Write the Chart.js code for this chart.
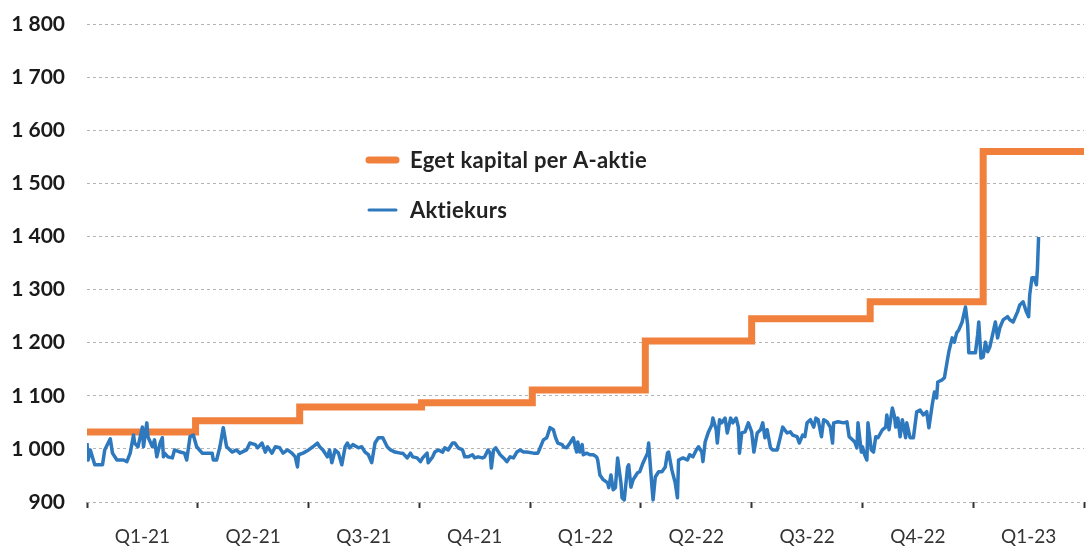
<!DOCTYPE html>
<html>
<head>
<meta charset="utf-8">
<script src="https://cdn.jsdelivr.net/npm/chart.js@4.4.1/dist/chart.umd.min.js"></script>
<style>
  html, body { margin: 0; padding: 0; background: #fff; }
  #wrap { width: 1088px; height: 546px; }
</style>
</head>
<body>
<div id="wrap"><canvas id="kurs" width="1088" height="546"></canvas></div>
<script>
// quarter labels on the x axis
const quarters = ['Q1-21', 'Q2-21', 'Q3-21', 'Q4-21', 'Q1-22', 'Q2-22', 'Q3-22', 'Q4-22', 'Q1-23'];

// equity per A-share (x in quarters since start of Q1-21)
const equityQ = [0, 0.98, 1.92, 3.02, 4.02, 5.04, 6.00, 7.07, 8.09, 9];
const equityV = [1032, 1053, 1079, 1087, 1111, 1203, 1245, 1277, 1560, 1560];

// share price
const priceQ = [
  0, 0.01, 0.03, 0.07, 0.14, 0.16, 0.21, 0.23, 0.27, 0.33, 0.36, 0.39, 0.42, 0.43, 0.46, 0.50, 0.51, 0.54, 0.55, 0.59,
  0.61, 0.63, 0.66, 0.68, 0.69, 0.70, 0.73, 0.77, 0.79, 0.84, 0.88, 0.90, 0.93, 0.96, 0.99, 1.04, 1.13, 1.14, 1.17, 1.20,
  1.23, 1.26, 1.31, 1.35, 1.38, 1.44, 1.47, 1.52, 1.54, 1.58, 1.61, 1.63, 1.67, 1.70, 1.74, 1.77, 1.81, 1.85, 1.88, 1.90,
  1.91, 1.95, 2.00, 2.04, 2.08, 2.10, 2.13, 2.17, 2.19, 2.21, 2.24, 2.27, 2.30, 2.33, 2.35, 2.37, 2.40, 2.45, 2.48, 2.51,
  2.54, 2.57, 2.60, 2.63, 2.67, 2.71, 2.74, 2.78, 2.83, 2.85, 2.89, 2.92, 2.94, 2.98, 3.01, 3.03, 3.07, 3.08, 3.12, 3.14,
  3.17, 3.21, 3.23, 3.26, 3.30, 3.32, 3.35, 3.39, 3.41, 3.44, 3.48, 3.50, 3.53, 3.57, 3.59, 3.62, 3.64, 3.65, 3.67, 3.69,
  3.73, 3.76, 3.79, 3.82, 3.85, 3.88, 3.91, 3.94, 3.97, 4.03, 4.07, 4.09, 4.12, 4.15, 4.18, 4.21, 4.23, 4.25, 4.29, 4.30,
  4.33, 4.36, 4.39, 4.41, 4.42, 4.43, 4.45, 4.47, 4.48, 4.51, 4.54, 4.57, 4.60, 4.61, 4.63, 4.66, 4.70, 4.71, 4.73, 4.75,
  4.77, 4.79, 4.82, 4.83, 4.85, 4.88, 4.89, 4.91, 4.93, 4.97, 4.99, 5.02, 5.06, 5.07, 5.10, 5.11, 5.13, 5.16, 5.19, 5.22,
  5.24, 5.25, 5.28, 5.31, 5.33, 5.34, 5.38, 5.42, 5.44, 5.47, 5.50, 5.52, 5.55, 5.56, 5.58, 5.61, 5.64, 5.65, 5.68, 5.69,
  5.71, 5.73, 5.76, 5.78, 5.81, 5.83, 5.86, 5.88, 5.89, 5.91, 5.94, 5.97, 6.00, 6.02, 6.05, 6.08, 6.10, 6.12, 6.14, 6.17,
  6.19, 6.23, 6.26, 6.28, 6.32, 6.35, 6.37, 6.41, 6.43, 6.46, 6.48, 6.50, 6.53, 6.56, 6.58, 6.60, 6.63, 6.65, 6.68, 6.71,
  6.73, 6.74, 6.78, 6.83, 6.86, 6.88, 6.91, 6.93, 6.95, 6.96, 6.99, 7.00, 7.02, 7.04, 7.05, 7.08, 7.10, 7.12, 7.14, 7.18,
  7.21, 7.22, 7.24, 7.27, 7.29, 7.30, 7.32, 7.34, 7.36, 7.39, 7.40, 7.43, 7.46, 7.49, 7.52, 7.55, 7.58, 7.60, 7.63, 7.65,
  7.67, 7.68, 7.72, 7.74, 7.77, 7.78, 7.81, 7.83, 7.85, 7.87, 7.90, 7.93, 7.95, 7.96, 7.99, 8.02, 8.04, 8.05, 8.07, 8.09,
  8.11, 8.13, 8.15, 8.18, 8.20, 8.22, 8.24, 8.27, 8.31, 8.33, 8.36, 8.40, 8.42, 8.45, 8.48, 8.50, 8.51, 8.53, 8.55, 8.57,
  8.58, 8.59
];
const priceV = [
  1011, 979, 998, 970, 970, 998, 1019, 992, 979, 979, 976, 992, 1026, 1011, 1004, 1041, 1004, 1049, 1023, 1004,
  1017, 985, 1011, 1021, 985, 992, 985, 983, 998, 994, 992, 979, 1023, 1026, 1004, 992, 992, 979, 979, 1004,
  1040, 1004, 994, 998, 992, 998, 1011, 1008, 1002, 1011, 994, 1004, 992, 1004, 1002, 992, 998, 992, 985, 966,
  989, 992, 998, 1004, 1011, 1004, 998, 985, 998, 974, 998, 992, 970, 1004, 1011, 1002, 1008, 1002, 1004, 994,
  989, 974, 1011, 1021, 1021, 1004, 998, 994, 992, 992, 983, 992, 985, 983, 976, 983, 992, 974, 985, 994,
  998, 994, 1002, 998, 1011, 1011, 1002, 998, 985, 985, 989, 983, 985, 983, 985, 998, 992, 964, 998, 1002,
  989, 983, 976, 985, 983, 994, 998, 994, 994, 992, 992, 1002, 1017, 1021, 1040, 1036, 1021, 1011, 1008, 1004,
  1002, 1011, 1021, 1002, 994, 1013, 994, 1008, 989, 992, 989, 989, 985, 979, 951, 942, 936, 927, 951, 923,
  927, 983, 936, 908, 904, 966, 970, 928, 942, 955, 957, 974, 992, 1011, 928, 904, 947, 957, 957, 966,
  992, 994, 960, 936, 908, 979, 983, 979, 989, 985, 998, 1004, 994, 976, 1013, 1032, 1045, 1058, 1036, 1011,
  1055, 1049, 1058, 1030, 1058, 1049, 1058, 1041, 992, 1030, 1032, 1049, 1032, 994, 1030, 1036, 1049, 1021, 1036, 1002,
  998, 998, 1023, 1041, 1030, 1032, 1026, 1023, 1011, 1026, 1023, 1049, 1055, 1041, 1058, 1055, 1023, 1055, 1051, 1041,
  1011, 1049, 1051, 1049, 1051, 1023, 1017, 1013, 1002, 1049, 994, 1004, 989, 979, 1049, 998, 994, 1023, 1021, 1036,
  1041, 1064, 1036, 1077, 1060, 1041, 1058, 1023, 1055, 1021, 1049, 1021, 1021, 1070, 1073, 1064, 1070, 1040, 1083, 1107,
  1096, 1126, 1130, 1134, 1171, 1183, 1209, 1201, 1218, 1224, 1239, 1267, 1233, 1181, 1181, 1181, 1215, 1239, 1171, 1173,
  1201, 1183, 1192, 1220, 1239, 1209, 1228, 1243, 1249, 1243, 1239, 1258, 1271, 1277, 1258, 1249, 1290, 1322, 1322, 1309,
  1341, 1399
];

Chart.defaults.font.family = 'Lato, "Open Sans", sans-serif';
Chart.defaults.color = '#222';

// legend sits inside the plot, not above it
const innerLegend = {
  id: 'innerLegend',
  afterDatasetsDraw(chart) {
    const ctx = chart.ctx;
    const a = chart.chartArea;
    ctx.save();
    ctx.font = 'bold 22px Lato';
    ctx.letterSpacing = '0.3px';
    ctx.textRendering = 'optimizeSpeed';
    ctx.textBaseline = 'alphabetic';
    chart.data.datasets.forEach((ds, i) => {
      const x = a.left + 280;
      const y = a.top + 136 + i * 50;
      ctx.strokeStyle = ds.borderColor;
      ctx.lineWidth = i === 0 ? 7 : 3;
      ctx.lineCap = 'round';
      ctx.beginPath();
      ctx.moveTo(x + 2, y);
      ctx.lineTo(x + 29, y);
      ctx.stroke();
      ctx.fillStyle = '#222';
      ctx.fillText(ds.label, x + 43, y + 8);
    });
    ctx.restore();
  }
};

new Chart(
  document.getElementById('kurs'),
  {
    type: 'line',
    data: {
      datasets: [
        {
          label: 'Eget kapital per A-aktie',
          data: equityQ.map((q, i) => ({ x: q, y: equityV[i] })),
          xAxisID: 'xq',
          borderColor: '#F0803C',
          borderWidth: 7,
          stepped: 'before',
          pointRadius: 0,
          order: 2
        },
        {
          label: 'Aktiekurs',
          data: priceQ.map((q, i) => ({ x: q, y: priceV[i] })),
          xAxisID: 'xq',
          borderColor: '#2E78BE',
          borderWidth: 3.5,
          borderJoinStyle: 'round',
          pointRadius: 0,
          order: 1
        }
      ]
    },
    options: {
      responsive: false,
      animation: false,
      layout: { padding: { top: 24, right: 4, left: 0, bottom: 0 } },
      plugins: {
        legend: { display: false },
        tooltip: { enabled: false }
      },
      scales: {
        x: {
          type: 'category',
          labels: quarters,
          offset: true,
          grid: { offset: true, drawOnChartArea: false, tickLength: 6, tickWidth: 2, tickColor: '#333' },
          border: { display: false },
          ticks: { padding: 17, color: '#333', font: { size: 19 }, maxRotation: 0, autoSkip: false },
          afterFit(s) { s.height = 44; }
        },
        xq: {
          type: 'linear',
          axis: 'x',
          display: false,
          min: 0,
          max: 9
        },
        y: {
          min: 900,
          max: 1800,
          ticks: {
            stepSize: 100,
            padding: 22,
            color: '#1a1a1a',
            font: { size: 21, weight: 'bold' },
            callback: v => String(v).replace(/\B(?=(\d{3})+$)/, ' ')
          },
          grid: { color: '#b4b4b4', lineWidth: 1, drawTicks: false },
          border: { display: false, dash: [3, 3] },
          afterFit(s) { s.width = 87; s.paddingTop = 0; s.paddingBottom = 0; }
        }
      }
    },
    plugins: [innerLegend]
  }
);
</script>
</body>
</html>
